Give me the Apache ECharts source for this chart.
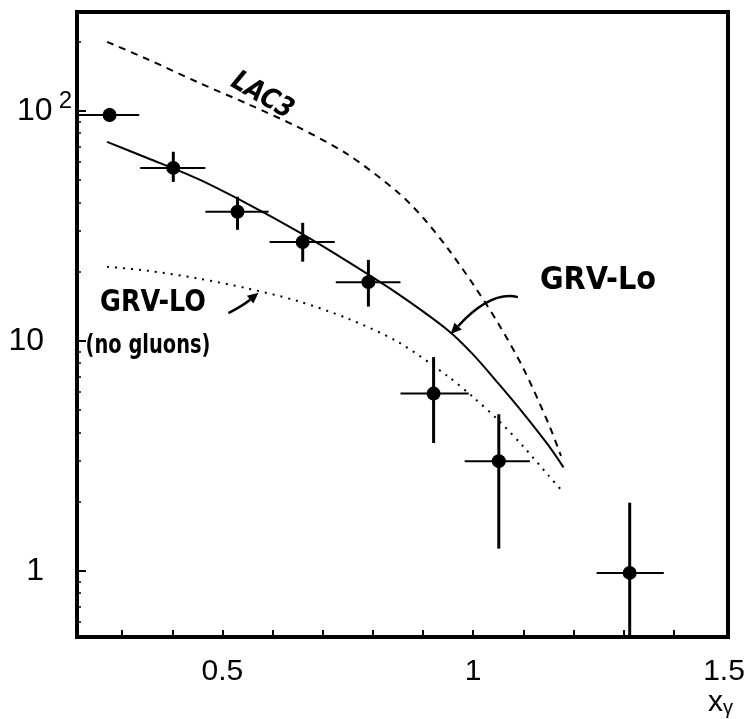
<!DOCTYPE html>
<html>
<head>
<meta charset="utf-8">
<script src="https://cdn.jsdelivr.net/npm/echarts@6/dist/echarts.min.js"></script>
<style>
html, body { margin: 0; padding: 0; background: #ffffff; }
#main { width: 756px; height: 719px; }
</style>
</head>
<body>
<div id="main"></div>
<script>
// Measured points: bin centre, bin edges and vertical error range
const xCenters = [0.275, 0.402, 0.530, 0.660, 0.791, 0.921, 1.051, 1.312];
const xLow     = [0.200, 0.336, 0.466, 0.594, 0.726, 0.855, 0.983, 1.246];
const xHigh    = [0.334, 0.466, 0.592, 0.724, 0.855, 0.991, 1.113, 1.380];
const yValues  = [96, 56.5, 36.4, 26.9, 18.0, 5.9, 3.0, 0.98];
const yLow     = [90, 49.1, 30.4, 22.1, 14.1, 3.6, 1.25, 0.3];
const yHigh    = [103, 66.4, 42.3, 32.6, 22.5, 8.5, 4.8, 1.98];

// Model curves
const lac3X = [0.27, 0.35, 0.45, 0.55, 0.65, 0.75, 0.85, 0.90, 0.95, 1.00, 1.05, 1.10, 1.15, 1.175];
const lac3Y = [199.5, 167.9, 133.4, 107.2, 85.1, 64.6, 44.2, 34.3, 25.1, 17.6, 11.9, 7.59, 4.37, 3.16];
const grvX = [0.27, 0.35, 0.45, 0.55, 0.65, 0.75, 0.85, 0.95, 1.00, 1.05, 1.10, 1.15, 1.18];
const grvY = [73.3, 62.4, 50.7, 39.4, 29.9, 22.1, 16.0, 11.1, 8.71, 6.53, 4.84, 3.51, 2.82];
const grvNoGluonX = [0.27, 0.35, 0.45, 0.55, 0.65, 0.75, 0.85, 0.95, 1.00, 1.05, 1.10, 1.15, 1.18];
const grvNoGluonY = [21.0, 20.2, 18.7, 16.9, 14.9, 12.5, 9.89, 7.0, 5.69, 4.52, 3.47, 2.60, 2.19];

// Axis ticks and labels
const xTickValues = [0.3, 0.4, 0.5, 0.6, 0.7, 0.8, 0.9, 1.0, 1.1, 1.2, 1.3, 1.4];
const xLabelValues = [0.5, 1, 1.5];
const yLabelValues = [1, 10, 100];
const yMinorValues = [0.6, 0.7, 0.8, 0.9, 2, 3, 4, 5, 6, 7, 8, 9, 20, 30, 40, 50, 60, 70, 80, 90, 200];

// Annotation arrows: start, control point, tip (data coordinates)
const arrows = [
  [1.089, 15.5, 1.036, 16.6, 0.955, 10.7],
  [0.512, 13.2, 0.542, 14.3, 0.572, 16.2]
];

const chart = echarts.init(document.getElementById('main'), null, { renderer: 'canvas' });

function zip(xs, ys) { return xs.map((x, i) => [x, ys[i]]); }

function yLabel(v) {
  if (Math.abs(v - 100) < 1e-6) return '{b|10}{s|2}';
  if (Math.abs(v - 10) < 1e-6) return '{b|10}{pad|}';
  return '{b|1}{pad|}';
}

const axisFont = 'Liberation Sans';
const handFont = 'DejaVu Sans';

function curve(name, xs, ys, dash) {
  return {
    name: name, type: 'line', data: zip(xs, ys),
    smooth: 0.3,
    showSymbol: false, silent: true,
    lineStyle: { color: '#000', width: 2, type: dash }
  };
}

const option = {
  backgroundColor: '#ffffff',
  animation: false,
  grid: {
    left: 77, top: 12, width: 651, height: 625,
    show: true, borderColor: '#000', borderWidth: 4, backgroundColor: 'transparent'
  },
  xAxis: {
    type: 'value', min: 0.21, max: 1.508,
    axisLine: { show: false },
    splitLine: { show: false },
    axisTick: {
      inside: true, length: 7, customValues: xTickValues,
      lineStyle: { color: '#000', width: 2 }
    },
    axisLabel: {
      customValues: xLabelValues,
      formatter: v => (Math.abs(v - 1) < 1e-6 ? '1' : String(v)),
      color: '#000', fontSize: 30, fontFamily: axisFont, margin: 20
    }
  },
  yAxis: [
    {
      type: 'log', logBase: 10, min: 0.516, max: 269,
      axisLine: { show: false },
      splitLine: { show: false },
      axisTick: {
        inside: true, length: 9, customValues: yLabelValues,
        lineStyle: { color: '#000', width: 2 }
      },
      axisLabel: {
        customValues: yLabelValues,
        formatter: yLabel,
        margin: 5,
        rich: {
          b: { fontSize: 32, fontFamily: axisFont, color: '#000' },
          s: { fontSize: 24, fontFamily: axisFont, color: '#000', verticalAlign: 'bottom', padding: [0, 0, 18, 6] },
          pad: { width: 28 }
        }
      }
    },
    {
      type: 'log', logBase: 10, min: 0.516, max: 269, position: 'left',
      axisLine: { show: false },
      splitLine: { show: false },
      axisLabel: { show: false },
      axisTick: {
        inside: true, length: 4, customValues: yMinorValues,
        lineStyle: { color: '#000', width: 1.5 }
      }
    }
  ],
  series: [
    curve('LAC3', lac3X, lac3Y, [7, 6]),
    curve('GRV-Lo', grvX, grvY, 'solid'),
    curve('GRV-Lo (no gluons)', grvNoGluonX, grvNoGluonY, [2, 6]),
    {
      name: 'errors', type: 'custom', clip: true, silent: true,
      data: xCenters.map((x, i) => [x, yValues[i], xLow[i], xHigh[i], yLow[i], yHigh[i]]),
      encode: { x: [0, 2, 3], y: [1, 4, 5] },
      renderItem: function (params, api) {
        const x = api.value(0), y = api.value(1);
        const pL = api.coord([api.value(2), y]);
        const pR = api.coord([api.value(3), y]);
        const pB = api.coord([x, api.value(4)]);
        const pT = api.coord([x, api.value(5)]);
        return {
          type: 'group',
          children: [
            { type: 'line', shape: { x1: pL[0], y1: pL[1], x2: pR[0], y2: pR[1] }, style: { stroke: '#000', lineWidth: 2 } },
            { type: 'line', shape: { x1: pB[0], y1: pB[1], x2: pT[0], y2: pT[1] }, style: { stroke: '#000', lineWidth: 3 } }
          ]
        };
      }
    },
    {
      name: 'data', type: 'scatter', data: zip(xCenters, yValues),
      symbol: 'circle', symbolSize: 14, silent: true,
      itemStyle: { color: '#000', opacity: 1 }
    },
    {
      name: 'arrows', type: 'custom', silent: true, clip: false,
      data: arrows,
      encode: { x: [0, 2, 4], y: [1, 3, 5] },
      renderItem: function (params, api) {
        const p0 = api.coord([api.value(0), api.value(1)]);
        const pc = api.coord([api.value(2), api.value(3)]);
        const p1 = api.coord([api.value(4), api.value(5)]);
        const dx = p1[0] - pc[0], dy = p1[1] - pc[1];
        const len = Math.sqrt(dx * dx + dy * dy) || 1;
        const ux = dx / len, uy = dy / len;
        const head = 11, half = 5;
        const bx = p1[0] - ux * head, by = p1[1] - uy * head;
        return {
          type: 'group',
          children: [
            {
              type: 'bezierCurve',
              shape: { x1: p0[0], y1: p0[1], x2: bx, y2: by, cpx1: pc[0], cpy1: pc[1] },
              style: { stroke: '#000', lineWidth: 2.5, fill: null }
            },
            {
              type: 'polygon',
              shape: { points: [[p1[0], p1[1]], [bx - uy * half, by + ux * half], [bx + uy * half, by - ux * half]] },
              style: { fill: '#000' }
            }
          ]
        };
      }
    }
  ],
  graphic: [
    {
      type: 'text', x: 262, y: 96, rotation: -30 * Math.PI / 180, scaleX: 0.85,
      style: { text: 'LAC3', font: 'italic bold 28px "' + handFont + '"', fill: '#000', align: 'center', verticalAlign: 'middle' }
    },
    {
      type: 'text', x: 598, y: 281, scaleX: 0.9,
      style: { text: 'GRV-Lo', font: 'bold 32px "' + handFont + '"', fill: '#000', align: 'center', verticalAlign: 'middle' }
    },
    {
      type: 'text', x: 153, y: 303, scaleX: 0.85,
      style: { text: 'GRV-LO', font: 'bold 30px "' + handFont + '"', fill: '#000', align: 'center', verticalAlign: 'middle' }
    },
    {
      type: 'text', x: 148, y: 346, scaleX: 0.72,
      style: { text: '(no gluons)', font: 'bold 27px "' + handFont + '"', fill: '#000', align: 'center', verticalAlign: 'middle' }
    },
    {
      type: 'text', x: 708, y: 688,
      style: {
        text: '{x|x}{g|γ}',
        rich: {
          x: { fontSize: 30, fontFamily: axisFont, fill: '#000' },
          g: { fontSize: 20, fontFamily: axisFont, fill: '#000', verticalAlign: 'bottom', padding: [10, 0, 0, 0] }
        }
      }
    }
  ]
};

chart.setOption(option);
</script>
</body>
</html>
